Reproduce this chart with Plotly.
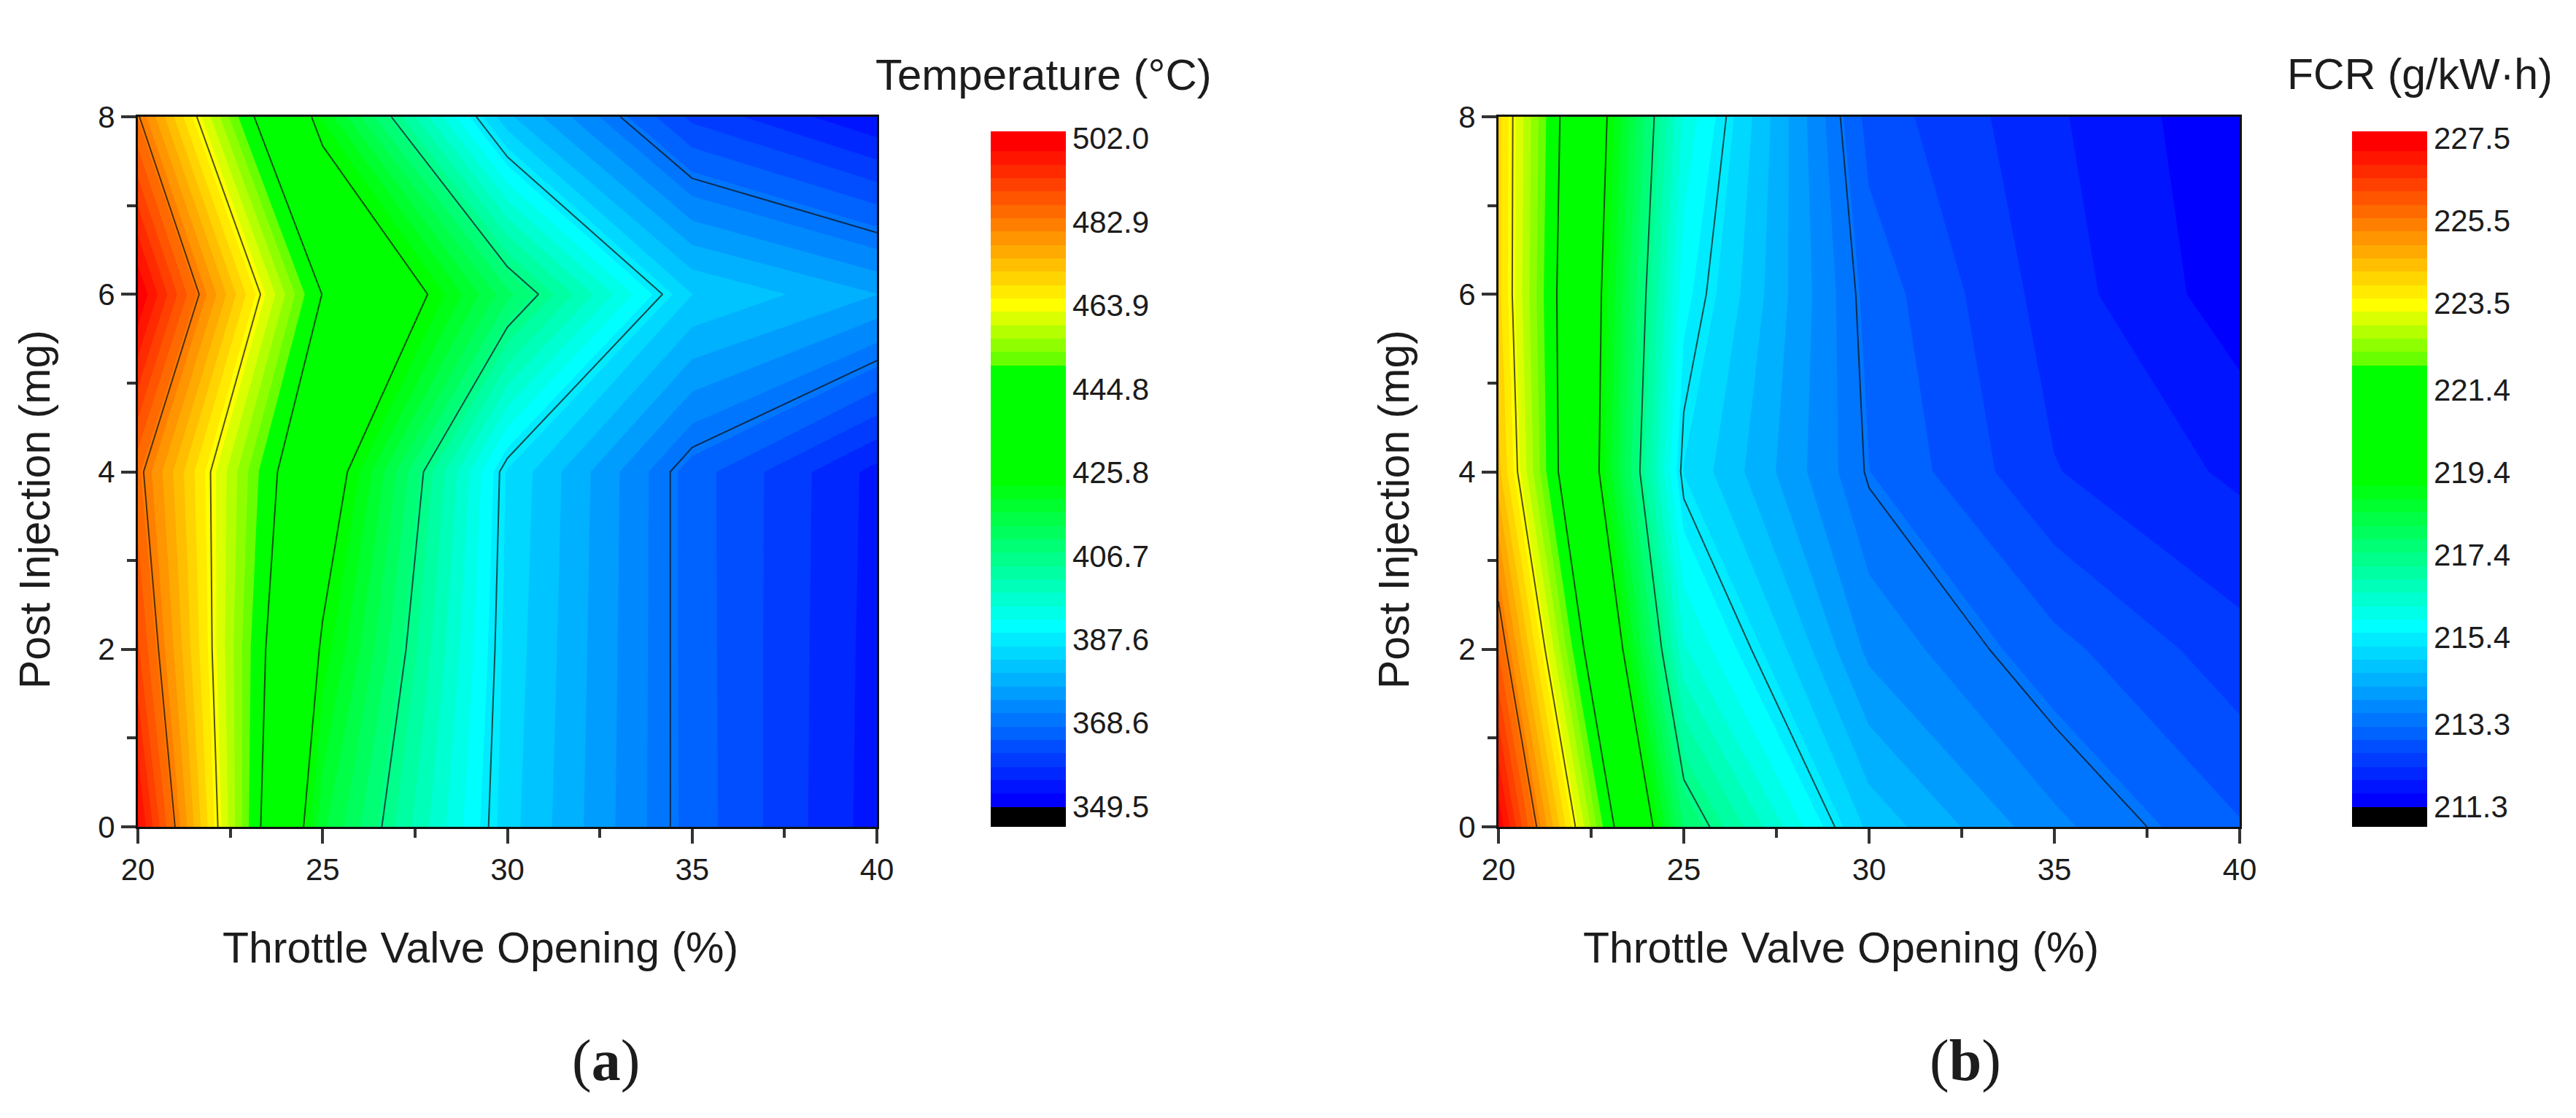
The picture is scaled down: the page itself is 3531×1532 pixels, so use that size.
import plotly.graph_objects as go

# grid the two maps were measured on
throttle = [20, 25, 30, 35, 40]
post_injection = [0, 2, 4, 6, 8]

# exhaust temperature, one row per post injection value
temperature = [
    [499.5, 417.3, 384.3, 366.5, 354.0],
    [490.3, 424.6, 385.0, 366.4, 354.2],
    [484.6, 432.0, 385.7, 366.3, 354.5],
    [502.0, 444.6, 411.5, 383.1, 377.0],
    [483.5, 422.1, 380.7, 360.9, 352.8],
]

# fuel consumption rate
fcr = [
    [227.44, 217.77, 214.77, 213.65, 212.95],
    [225.85, 216.20, 213.80, 213.03, 212.39],
    [224.37, 215.17, 213.25, 212.29, 211.88],
    [224.05, 215.63, 213.12, 212.11, 211.43],
    [224.04, 216.08, 212.79, 212.00, 211.35],
]

temp_labels = ['349.5', '368.6', '387.6', '406.7', '425.8', '444.8', '463.9', '482.9', '502.0']
fcr_labels = ['211.3', '213.3', '215.4', '217.4', '219.4', '221.4', '223.5', '225.5', '227.5']

x_ticks = [20, 25, 30, 35, 40]
y_ticks = [0, 2, 4, 6, 8]

# the page body has an 8px margin, so the figure is 16px smaller than the window
PAGE_MARGIN = 8
WIDTH = 3531 - 2 * PAGE_MARGIN
HEIGHT = 1532 - 2 * PAGE_MARGIN
TEXT = '#1c1c1c'
SANS = 'Liberation Sans'
N_LEVELS = 50  # bands between min and max, plus one black band below min

# band index from the bottom of the colour bar -> colour
BAND_COLORS = [
    (0, 'rgb(0,0,0)'),
    (1, 'rgb(0,0,255)'),
    (14, 'rgb(0,255,255)'),
    (25, 'rgb(0,255,0)'),
    (33, 'rgb(0,255,0)'),
    (34, 'rgb(105,255,0)'),
    (38, 'rgb(255,255,0)'),
    (50, 'rgb(255,0,0)'),
]


def px_x(p):
    return (p - PAGE_MARGIN) / WIDTH


def px_y(p):
    return 1 - (p - PAGE_MARGIN) / HEIGHT


def band_scale():
    # plotly maps the scale over start - size/2 .. end + size/2,
    # so band i sits at (i + 1) / (bands + 1)
    n = N_LEVELS + 2
    scale = [[0, BAND_COLORS[0][1]]]
    for i, color in BAND_COLORS:
        scale.append([(i + 1) / n, color])
    scale.append([1, BAND_COLORS[-1][1]])
    return scale


def add_panel(fig, z, labels, xaxis, yaxis, bar_left):
    ticks = [float(t) for t in labels]
    size = (ticks[-1] - ticks[0]) / N_LEVELS
    step = (ticks[-1] - ticks[0]) / (len(ticks) - 1)

    fig.add_trace(go.Contour(
        x=throttle, y=post_injection, z=z, xaxis=xaxis, yaxis=yaxis,
        colorscale=band_scale(),
        autocontour=False,
        contours=dict(
            coloring='fill', showlines=False,
            start=ticks[0] - size, end=ticks[-1] + size * 0.001, size=size,
        ),
        line=dict(width=0, smoothing=0),
        hoverinfo='skip',
        colorbar=dict(
            x=px_x(bar_left), xanchor='left', xpad=0,
            y=px_y(180), yanchor='top', ypad=0,
            len=953, lenmode='pixels',
            thickness=103, thicknessmode='pixels',
            outlinewidth=0, borderwidth=0,
            ticks='', ticklen=0,
            tickmode='array', tickvals=ticks, ticktext=labels,
            tickfont=dict(family=SANS, size=42, color=TEXT),
        ),
    ))
    # black isolines sit on the colour bar ticks, not on the band edges
    fig.add_trace(go.Contour(
        x=throttle, y=post_injection, z=z, xaxis=xaxis, yaxis=yaxis,
        showscale=False,
        autocontour=False,
        contours=dict(
            coloring='none', showlines=True,
            start=ticks[1], end=ticks[-2] + step * 0.01, size=step,
        ),
        line=dict(color='rgba(15,15,15,0.72)', width=2, smoothing=0),
        hoverinfo='skip',
    ))


def axis_style(left, right, top, bottom):
    common = dict(
        showline=True, linecolor='#111111', linewidth=3, mirror=True,
        showgrid=False, zeroline=False,
        ticks='outside', ticklen=20, tickwidth=4, tickcolor='#333333',
        tickfont=dict(family=SANS, size=42, color=TEXT),
    )
    x = dict(
        common, domain=[px_x(left), px_x(right)], range=[20, 40],
        tickmode='array', tickvals=x_ticks,
        minor=dict(ticks='outside', ticklen=12, tickwidth=4, tickcolor='#333333',
                   tick0=22.5, dtick=5),
    )
    y = dict(
        common, domain=[px_y(bottom), px_y(top)], range=[0, 8],
        tickmode='array', tickvals=y_ticks,
        minor=dict(ticks='outside', ticklen=12, tickwidth=4, tickcolor='#333333',
                   tick0=1, dtick=2),
    )
    return x, y


def text_note(text, x, y, size=59, family=SANS, angle=0):
    return dict(
        text=text, x=px_x(x), y=px_y(y), xref='paper', yref='paper',
        xanchor='center', yanchor='middle', showarrow=False, textangle=angle,
        font=dict(family=family, size=size, color=TEXT),
    )


fig = go.Figure()
add_panel(fig, temperature, temp_labels, 'x', 'y', 1358)
add_panel(fig, fcr, fcr_labels, 'x2', 'y2', 3224)

xa, ya = axis_style(189, 1202, 160, 1133)
xb, yb = axis_style(2054, 3070, 160, 1133)
xa['anchor'] = 'y'
ya['anchor'] = 'x'
xb['anchor'] = 'y2'
yb['anchor'] = 'x2'

fig.update_layout(
    width=WIDTH, height=HEIGHT, autosize=False,
    # colour bars would otherwise push the margins and shift every position
    margin=dict(l=0, r=0, t=0, b=0, autoexpand=False),
    paper_bgcolor='white', plot_bgcolor='white',
    showlegend=False,
    xaxis=xa, yaxis=ya, xaxis2=xb, yaxis2=yb,
    annotations=[
        text_note('Temperature (°C)', 1430, 102, size=60),
        text_note('FCR (g/kW·h)', 3317, 102),
        text_note('Throttle Valve Opening (%)', 658, 1299),
        text_note('Throttle Valve Opening (%)', 2523, 1299),
        text_note('Post Injection (mg)', 48, 698, angle=-90),
        text_note('Post Injection (mg)', 1911, 698, angle=-90),
        text_note('(<b>a</b>)', 830, 1453, size=80, family='Liberation Serif'),
        text_note('(<b>b</b>)', 2694, 1453, size=80, family='Liberation Serif'),
    ],
)

fig.write_html('out.html')
